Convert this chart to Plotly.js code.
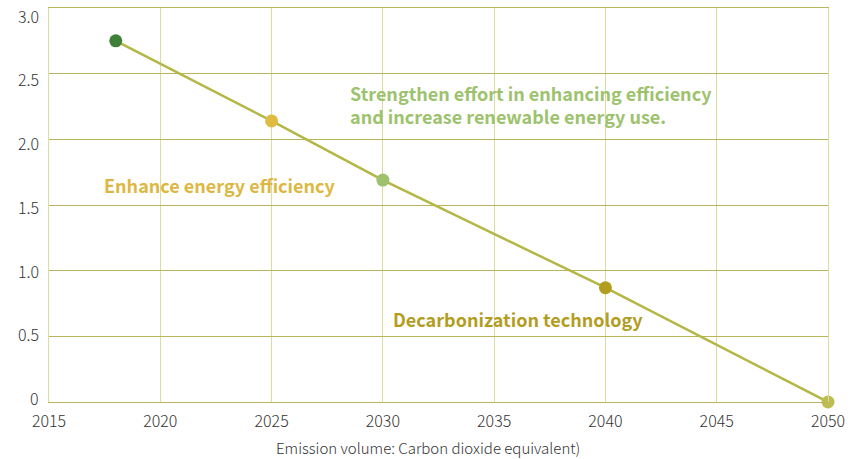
<!DOCTYPE html>
<html>
<head>
<meta charset="utf-8">
<script src="https://cdn.plot.ly/plotly-3.0.1.min.js"></script>
<style>
  html, body { margin: 0; padding: 0; background: #fff; }
  #chart { width: 855px; height: 459px; }
</style>
</head>
<body>
<div id="chart"></div>
<script>
// Emission pathway toward 2050
const years = [2018, 2025, 2030, 2040, 2050];
const emissions = [2.75, 2.14, 1.69, 0.87, 0];
const pointColors = ['#3e8136', '#e0bb42', '#9dc16d', '#b39d1f', '#bdbd52'];

const xTicks = [2015, 2020, 2025, 2030, 2035, 2040, 2045, 2050];
const yTicks = [0, 0.5, 1.0, 1.5, 2.0, 2.5, 3.0];
const yTickText = ['0', '0.5', '1.0', '1.5', '2.0', '2.5', '3.0'];

const stageLabels = [
  'Enhance energy efficiency',
  'Strengthen effort in enhancing efficiency<br>and increase renewable energy use.',
  'Decarbonization technology'
];
const stageX = [2017.4, 2028.45, 2030.35];
const stageY = [1.653, 2.262, 0.632];
const stageColors = ['#dcb842', '#9dc26d', '#b39d1f'];

const FONT = '"Noto Sans CJK KR", "Noto Sans", sans-serif';

const W = 855, H = 459;
const M = { l: 49, r: 27, t: 8, b: 57 };
const plotH = H - M.t - M.b;
const plotW = W - M.l - M.r;

const trace = {
  x: years,
  y: emissions,
  type: 'scatter',
  mode: 'lines+markers',
  line: { color: '#b4b646', width: 2.5 },
  marker: { color: pointColors, size: 13 },
  cliponaxis: false,
  hoverinfo: 'x+y'
};

const annotations = stageLabels.map((t, i) => ({
  x: stageX[i], y: stageY[i], xref: 'x', yref: 'y',
  text: t, showarrow: false, xanchor: 'left', yanchor: 'middle', align: 'left',
  font: { family: FONT, size: 18, color: stageColors[i], weight: 700 }
}));

// y tick labels: a slightly tighter ladder than the gridlines, 64px apart from the baseline label
yTickText.forEach((t, i) => {
  const centerPx = 398 - i * 63.7;
  annotations.push({
    x: -9 / plotW, y: (H - M.b - centerPx) / plotH, xref: 'paper', yref: 'paper',
    text: t, showarrow: false, xanchor: 'right', yanchor: 'middle', borderpad: 0,
    font: { family: FONT, size: 16, color: '#333333', weight: 300 }
  });
});

// axis caption, placed below the plot area
annotations.push({
  x: 0.486, y: -(447 - (H - M.b)) / plotH, xref: 'paper', yref: 'paper',
  text: 'Emission volume: Carbon dioxide equivalent)',
  showarrow: false, xanchor: 'center', yanchor: 'middle',
  font: { family: FONT, size: 15, color: '#333333', weight: 300 }
});

const layout = {
  width: W, height: H,
  margin: M,
  paper_bgcolor: '#ffffff', plot_bgcolor: '#ffffff',
  showlegend: false,
  xaxis: {
    range: [2015, 2050], tickvals: xTicks, ticktext: xTicks.map(String),
    showgrid: true, gridcolor: '#dcdc9f', gridwidth: 1,
    showline: true, mirror: true, linecolor: '#bab45a', linewidth: 1,
    zeroline: false, ticks: 'outside', ticklen: 5, tickcolor: 'rgba(0,0,0,0)',
    tickfont: { family: FONT, size: 16, color: '#333333', weight: 300 },
    ticklabeloverflow: 'allow',
    fixedrange: true
  },
  yaxis: {
    range: [0, 3], tickvals: yTicks, ticktext: yTickText,
    showticklabels: false,
    showgrid: true, gridcolor: '#bab45a', gridwidth: 1,
    showline: true, mirror: true, linecolor: '#dcdc9f', linewidth: 1,
    zeroline: false, ticks: '',
    fixedrange: true
  },
  annotations: annotations
};

Plotly.newPlot('chart', [trace], layout, { displayModeBar: false, staticPlot: true });
</script>
</body>
</html>
